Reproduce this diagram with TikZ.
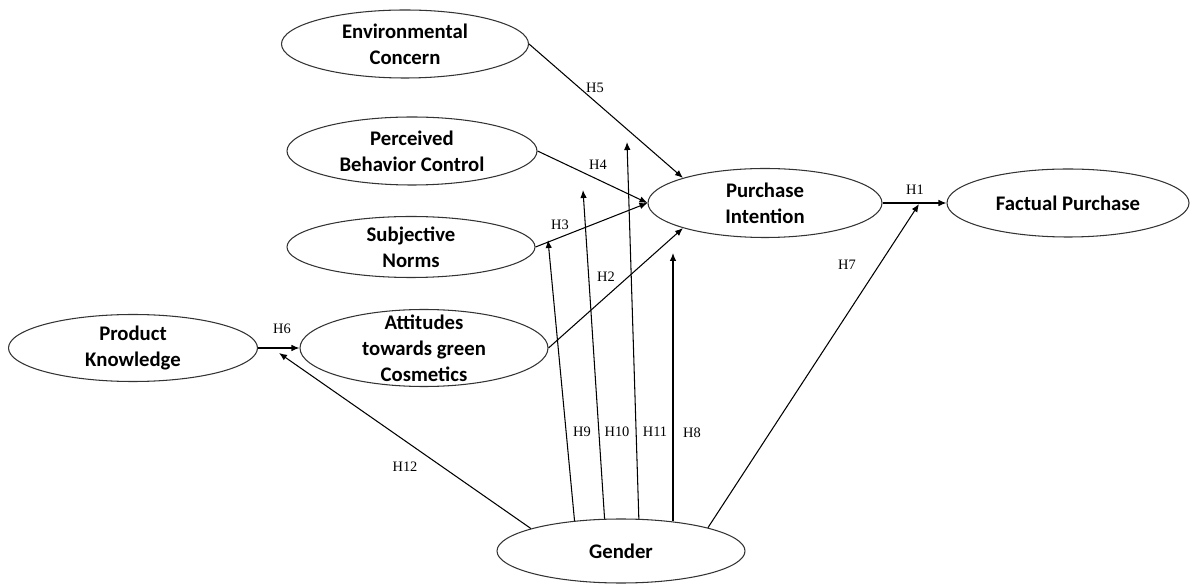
\documentclass[tikz,border=0pt]{standalone}
\usepackage{fontspec}
\setmainfont{Carlito}
\newfontfamily\hypfont{Liberation Serif}
\usetikzlibrary{shapes.geometric, arrows.meta}

\tikzset{
    construct/.style={ellipse, draw=black!80, line width=0.6pt, minimum width=4.96cm, minimum height=1.36cm, inner sep=0pt},
    ctext/.style={align=center, font=\fontsize{11.8}{14.8}\selectfont\bfseries},
    hyp/.style={font=\hypfont\fontsize{8.2}{9}\selectfont, inner sep=1pt},
    link/.style={draw, line width=0.6pt, -{Latex[length=1.6mm, width=1.3mm]}}
}

\begin{document}
\begin{tikzpicture}
    \useasboundingbox (0,0) rectangle (23.84,11.66);

    % Constructs
    \node[construct, minimum width=4.94cm, label={[ctext]center:Environmental\\Concern}] (env) at (8.10,10.78) {};
    \node[construct, minimum width=5.00cm, label={[ctext]center:Perceived\\Behavior Control}] (per) at (8.24,8.64) {};
    \node[construct, minimum height=1.22cm, label={[ctext]center:Subjective\\Norms}] (sub) at (8.22,6.72) {};
    \node[construct, minimum height=1.54cm, label={[ctext]center:Attitudes\\towards green\\Cosmetics}] (att) at (8.48,4.70) {};
    \node[construct, minimum width=4.98cm, minimum height=1.34cm, label={[ctext]center:Product\\Knowledge}] (pk) at (2.66,4.70) {};
    \node[construct, minimum width=4.68cm, minimum height=1.38cm, label={[ctext]center:Purchase\\Intention}] (pi) at (15.30,7.60) {};
    \node[construct, minimum width=4.84cm, label={[ctext]center:Factual Purchase}] (fp) at (21.36,7.60) {};
    \node[construct, minimum height=1.28cm, label={[ctext]center:Gender}] (gen) at (12.42,0.64) {};

    % Direct paths
    \draw[link] (env.east) -- (pi.163);
    \draw[link] (per.east) -- (pi.west);
    \draw[link] (sub.east) -- (pi.west);
    \draw[link] (att.east) -- (pi.197);
    \draw[link] (pi.east) -- (fp.west);
    \draw[link] (pk.east) -- (att.west);

    % Moderation by gender
    \coordinate (m12) at (5.58,4.60);
    \coordinate (m9) at (10.96,6.86);
    \coordinate (m10) at (11.66,7.86);
    \coordinate (m11) at (12.54,8.82);
    \coordinate (m8) at (13.46,6.60);
    \coordinate (m7) at (18.38,7.58);
    \draw[link] (gen.166) -- (m12);
    \draw[link] (gen.147) -- (m9);
    \draw[link] (gen.117) -- (m10);
    \draw[link] (gen.61) -- (m11);
    \draw[link] (m8 |- gen.31) -- (m8);
    \draw[link] (gen.15) -- (m7);

    % Hypothesis labels
    \node[hyp] (h1) at (18.30,7.86) {H1};
    \node[hyp] (h2) at (12.12,6.12) {H2};
    \node[hyp] (h3) at (11.20,7.16) {H3};
    \node[hyp] (h4) at (11.96,8.36) {H4};
    \node[hyp] (h5) at (11.90,9.90) {H5};
    \node[hyp] (h6) at (5.64,5.08) {H6};
    \node[hyp] (h7) at (16.94,6.36) {H7};
    \node[hyp] (h8) at (13.84,3.00) {H8};
    \node[hyp] (h9) at (11.64,3.02) {H9};
    \node[hyp] (h10) at (12.34,3.02) {H10};
    \node[hyp] (h11) at (13.10,3.02) {H11};
    \node[hyp] (h12) at (8.10,2.32) {H12};

\end{tikzpicture}
\end{document}
